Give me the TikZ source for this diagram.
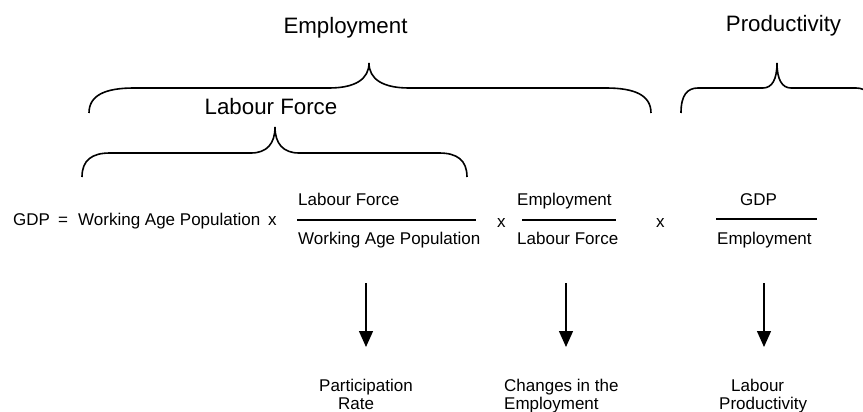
\documentclass[tikz,border=0pt]{standalone}
\usepackage{fontspec}
\setmainfont{Liberation Sans}
\usetikzlibrary{arrows.meta}

% curly brace: left x, tip x, right x, end y, line y, tip y, end width, tip half width
\newcommand{\curlybr}[8]{%
  \draw[curly] (#1,#4) .. controls (#1,{#5+(#4-#5)*0.3}) and ({#1+#7*0.35},#5) .. ({#1+#7},#5)
    -- ({#2-#8},#5) .. controls ({#2-#8*0.35},#5) and (#2,{#5-(#5-#6)*0.35}) .. (#2,#6)
    .. controls (#2,{#5-(#5-#6)*0.35}) and ({#2+#8*0.35},#5) .. ({#2+#8},#5)
    -- ({#3-#7},#5) .. controls ({#3-#7*0.35},#5) and (#3,{#5+(#4-#5)*0.3}) .. (#3,#4);}

\begin{document}
\begin{tikzpicture}[x=1pt,y=-1pt,>={Triangle[width=14pt,length=16pt]},
    title/.style={font=\fontsize{22.3}{26}\selectfont,inner sep=0pt},
    term/.style={font=\fontsize{17}{20}\selectfont,inner sep=0pt},
    result/.style={font=\fontsize{17}{18}\selectfont,inner sep=0pt,align=left,anchor=north west},
    bar/.style={line width=1.3pt},
    curly/.style={line width=1.6pt},
    flow/.style={->,line width=1.4pt}]
  \useasboundingbox (0,0) rectangle (863,412);
  \clip (0,0) rectangle (863,412);

  % titles and braces
  \node[title,anchor=base] (emp) at (345.5,34) {Employment};
  \node[title,anchor=base] (prod) at (783.5,32) {Productivity};
  \node[title,anchor=base] (lf) at (271,114) {Labour Force};
  \curlybr{89}{369}{651}{113}{88}{63}{45}{40}
  \curlybr{681}{777}{873}{113}{88}{63}{17}{14}
  \curlybr{82}{275}{467}{177}{153}{127}{28}{24}

  % the identity
  \node[term,anchor=base west] (gdp) at (13,225) {GDP};
  \node[term,anchor=base west] (eq) at (58,225) {=};
  \node[term,anchor=base west] (wap) at (78,225) {Working Age Population};
  \node[term,anchor=base west] (x1) at (268,225) {x};
  \node[term,anchor=base west] (num1) at (298,205) {Labour Force};
  \node[term,anchor=base west] (den1) at (298,244) {Working Age Population};
  \draw[bar] (297,220) -- (476,220);
  \node[term,anchor=base west] (x2) at (497,227) {x};
  \node[term,anchor=base west] (num2) at (517,205) {Employment};
  \node[term,anchor=base west] (den2) at (517,244) {Labour Force};
  \draw[bar] (522,220) -- (616,220);
  \node[term,anchor=base west] (x3) at (656,227) {x};
  \node[term,anchor=base west] (num3) at (740,205) {GDP};
  \node[term,anchor=base west] (den3) at (717,244) {Employment};
  \draw[bar] (716,219) -- (817,219);

  % what each ratio stands for
  \node[result] (part) at (319,379) {Participation\\\hspace*{19pt}Rate};
  \node[result] (chg) at (504,379) {Changes in the\\Employment};
  \node[result] (lprod) at (719,379) {\hspace*{12pt}Labour\\Productivity};
  \coordinate (a1) at (366,283);
  \coordinate (a2) at (566,283);
  \coordinate (a3) at (764,283);
  \path (a1) edge[flow,shorten >=32pt] (a1 |- part.north)
        (a2) edge[flow,shorten >=32pt] (a2 |- chg.north)
        (a3) edge[flow,shorten >=32pt] (a3 |- lprod.north);
\end{tikzpicture}
\end{document}
